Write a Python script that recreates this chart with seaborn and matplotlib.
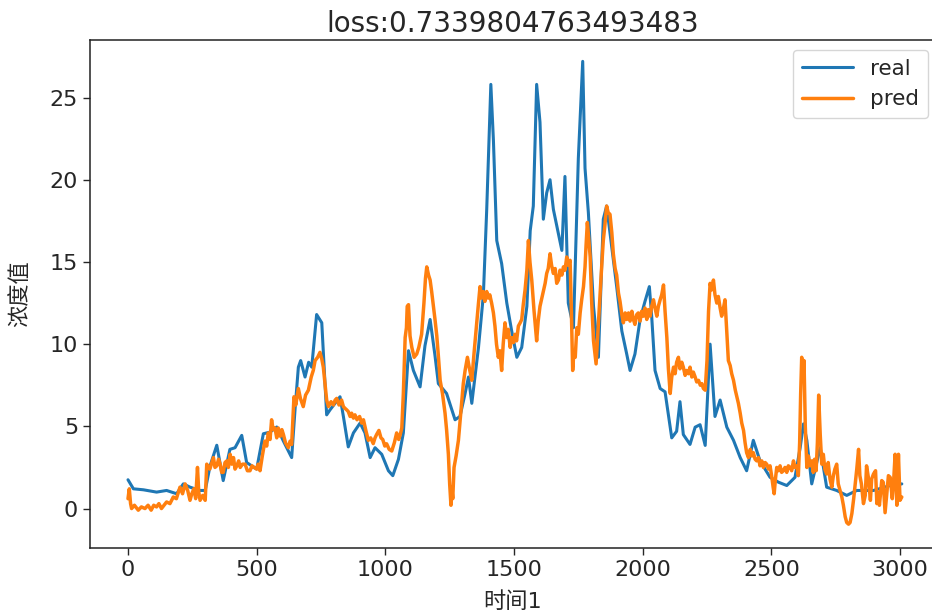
import matplotlib
matplotlib.use("Agg")
import matplotlib.pyplot as plt
import seaborn as sns

sns.set_style("ticks")
plt.rcParams['font.family'] = ['DejaVu Sans', 'Noto Sans CJK SC']
plt.rcParams['axes.unicode_minus'] = False

title_text = "loss:0.7339804763493483"
x_label = "时间1"
y_label = "浓度值"
series_names = ["real", "pred"]
x_ticks = [0, 500, 1000, 1500, 2000, 2500, 3000]
y_ticks = [0, 5, 10, 15, 20, 25]

real_x = [0, 21, 60, 111, 150, 189, 215, 241, 280, 300, 319, 345, 370, 396, 416, 442, 461, 500,
          526, 552, 578, 604, 636, 649, 662, 671, 688, 702, 714, 733, 753, 772, 785, 824, 837,
          856, 876, 902, 921, 941, 960, 986, 1012, 1029, 1051, 1070, 1090, 1109, 1135, 1154,
          1174, 1193, 1206, 1238, 1271, 1290, 1310, 1323, 1336, 1362, 1381, 1394, 1410, 1420,
          1433, 1452, 1472, 1491, 1511, 1530, 1550, 1563, 1575, 1588, 1601, 1614, 1627, 1640,
          1653, 1673, 1686, 1698, 1711, 1731, 1750, 1767, 1776, 1789, 1809, 1828, 1847, 1860,
          1880, 1899, 1919, 1938, 1951, 1970, 1990, 2009, 2026, 2035, 2048, 2068, 2087, 2113,
          2132, 2145, 2158, 2184, 2204, 2223, 2243, 2262, 2281, 2301, 2327, 2353, 2379, 2404,
          2430, 2456, 2495, 2528, 2560, 2592, 2612, 2625, 2638, 2657, 2690, 2715, 2754, 2793,
          2832, 2897, 2962, 3007]
real_y = [1.75, 1.2, 1.14, 1.0, 1.1, 0.9, 1.5, 1.3, 1.1, 1.1, 2.6, 3.85, 1.7, 3.6, 3.7, 4.45, 2.8, 2.4,
          4.55, 4.65, 4.96, 4.1, 3.1, 6.0, 8.6, 9.0, 8.0, 8.9, 8.6, 11.8, 11.3, 5.7, 6.0, 6.8, 5.6,
          3.75, 4.6, 5.2, 4.6, 3.1, 3.7, 3.3, 2.3, 2.0, 3.0, 4.6, 9.6, 8.4, 7.4, 9.9,
          11.5, 9.3, 7.6, 7.0, 5.4, 5.6, 7.0, 8.0, 6.4, 9.8, 13.0, 18.2, 25.8, 22.4,
          16.3, 14.9, 12.5, 10.8, 9.2, 9.8, 12.3, 16.9, 18.4, 25.8, 23.5, 17.6, 19.2, 20.0,
          18.2, 16.7, 15.7, 20.2, 12.5, 11.0, 21.3, 27.2, 20.7, 18.0, 12.3, 9.2, 17.6, 18.4,
          15.9, 13.5, 10.8, 9.4, 8.4, 9.4, 11.5, 12.6, 13.5, 11.7, 8.4, 7.3, 7.1, 4.3,
          4.7, 6.5, 4.5, 3.9, 4.95, 5.1, 3.84, 10.0, 5.6, 6.6, 4.95, 4.15, 3.1, 2.3,
          4.15, 2.9, 1.9, 1.6, 1.4, 1.9, 3.7, 5.15, 4.15, 1.5, 3.7, 1.3, 1.1, 0.8,
          1.1, 1.1, 1.4, 1.5]

pred_x = [0, 5, 10, 14, 25, 40, 52, 66, 78, 90,
          100, 111, 120, 130, 140, 150, 163, 176, 188, 202,
          212, 222, 232, 241, 248, 256, 263, 270, 275, 280,
          290, 300, 306, 318, 332, 338, 345, 352, 358, 364,
          370, 377, 384, 390, 397, 403, 410, 416, 423, 430,
          436, 445, 455, 464, 474, 482, 490, 500, 506, 513,
          522, 532, 539, 545, 552, 558, 564, 571, 578, 584,
          592, 598, 604, 612, 623, 630, 636, 645, 652, 662,
          670, 681, 690, 701, 712, 720, 727, 737, 746, 753,
          759, 766, 772, 779, 789, 798, 805, 811, 820, 830,
          837, 843, 850, 856, 863, 869, 876, 882, 890, 900,
          908, 915, 925, 934, 943, 953, 960, 966, 975, 983,
          990, 998, 1005, 1015, 1025, 1035, 1044, 1052, 1058, 1064,
          1070, 1077, 1082, 1085, 1090, 1096, 1103, 1112, 1122, 1130,
          1141, 1150, 1156, 1161, 1168, 1174, 1180, 1187, 1193, 1200,
          1206, 1213, 1222, 1232, 1238, 1245, 1250, 1255, 1258, 1262,
          1267, 1275, 1284, 1294, 1303, 1310, 1319, 1327, 1336, 1345,
          1355, 1362, 1368, 1374, 1381, 1387, 1394, 1400, 1406, 1413,
          1420, 1426, 1432, 1439, 1445, 1452, 1458, 1465, 1472, 1478,
          1485, 1491, 1498, 1504, 1510, 1517, 1524, 1530, 1536, 1543,
          1550, 1556, 1562, 1569, 1578, 1588, 1594, 1601, 1608, 1614,
          1621, 1627, 1633, 1640, 1646, 1653, 1660, 1666, 1673, 1679,
          1686, 1692, 1698, 1705, 1711, 1718, 1723, 1728, 1733, 1738,
          1744, 1750, 1757, 1763, 1770, 1776, 1780, 1785, 1790, 1796,
          1802, 1809, 1814, 1819, 1827, 1835, 1841, 1847, 1853, 1860,
          1866, 1873, 1880, 1886, 1893, 1899, 1906, 1912, 1919, 1925,
          1932, 1938, 1945, 1951, 1958, 1964, 1970, 1977, 1983, 1990,
          1996, 2003, 2009, 2016, 2022, 2029, 2035, 2042, 2048, 2055,
          2061, 2068, 2074, 2081, 2087, 2094, 2100, 2107, 2113, 2120,
          2126, 2132, 2139, 2145, 2152, 2158, 2165, 2171, 2178, 2184,
          2191, 2197, 2204, 2210, 2217, 2224, 2230, 2236, 2243, 2250,
          2256, 2262, 2268, 2275, 2281, 2288, 2294, 2301, 2307, 2314,
          2320, 2326, 2333, 2340, 2346, 2353, 2360, 2366, 2372, 2379,
          2385, 2392, 2398, 2404, 2411, 2418, 2424, 2430, 2437, 2443,
          2450, 2456, 2463, 2469, 2476, 2482, 2489, 2495, 2502, 2507,
          2511, 2516, 2521, 2528, 2534, 2540, 2547, 2553, 2560, 2566,
          2573, 2579, 2586, 2592, 2599, 2605, 2610, 2614, 2618, 2623,
          2627, 2632, 2638, 2644, 2650, 2657, 2663, 2668, 2674, 2679,
          2684, 2690, 2696, 2702, 2708, 2715, 2721, 2728, 2735, 2741,
          2747, 2754, 2760, 2767, 2774, 2780, 2787, 2793, 2800, 2806,
          2813, 2820, 2826, 2832, 2839, 2844, 2850, 2858, 2865, 2870,
          2877, 2885, 2890, 2897, 2905, 2910, 2915, 2920, 2929, 2935,
          2942, 2948, 2955, 2962, 2970, 2975, 2981, 2988, 2994, 3000,
          3007]
pred_y = [0.6, 1.2, 0.3, 0.0, 0.2, -0.1, 0.1, 0.0, 0.2, -0.1,
          0.2, 0.1, 0.3, 0.0, 0.2, 0.4, 0.3, 0.7, 0.6, 1.3,
          0.9, 1.5, 1.1, 0.5, 0.9, 1.2, 0.6, 2.5, 1.0, 0.5,
          0.8, 0.5, 2.7, 2.4, 3.1, 2.5, 2.6, 3.0, 2.7, 2.2,
          2.2, 2.8, 2.9, 2.5, 3.3, 2.7, 3.1, 2.4, 2.6, 2.9,
          2.5, 2.7, 2.7, 2.3, 2.3, 2.6, 2.5, 2.4, 2.7, 2.3,
          3.2, 4.1, 3.8, 4.6, 4.2, 5.4, 4.8, 4.9, 4.3, 4.9,
          4.4, 4.8, 4.5, 4.0, 3.7, 4.1, 3.9, 6.8, 6.3, 7.3,
          6.7, 6.2, 6.9, 7.2, 8.0, 8.4, 9.0, 9.2, 9.5, 9.1,
          8.6, 7.5, 6.6, 6.2, 6.5, 6.3, 6.6, 6.7, 6.3, 6.6,
          6.2, 6.1, 6.0, 5.9, 5.6, 5.8, 5.5, 5.7, 5.4, 5.6,
          5.2, 5.4, 4.7, 4.15, 4.3, 3.95, 4.3, 4.5, 4.75, 4.3,
          4.2, 3.8, 3.94, 3.6, 3.5, 4.0, 4.6, 4.2, 4.5, 4.9,
          7.0, 10.4, 11.0, 12.3, 12.4, 10.5, 9.8, 9.2, 9.4, 9.8,
          10.6, 12.5, 14.0, 14.7, 14.2, 13.9, 13.2, 12.3, 11.5, 10.5,
          9.3, 7.8, 7.0, 5.8, 4.8, 3.3, 1.5, 0.2, 1.3, 0.6,
          2.5, 3.2, 4.15, 6.0, 7.6, 8.4, 9.2, 8.5, 7.8, 9.5,
          11.3, 12.5, 13.5, 12.8, 13.2, 12.6, 13.2, 12.8, 13.0, 12.5,
          11.9, 11.1, 10.0, 9.2, 9.6, 8.4, 10.0, 11.3, 10.4, 10.9,
          9.8, 10.4, 10.1, 10.6, 10.2, 11.1, 11.3, 11.5, 12.4, 13.3,
          14.5, 16.3, 15.0, 13.9, 12.0, 10.2, 11.4, 12.3, 12.8, 13.2,
          13.7, 14.3, 14.6, 15.5, 14.8, 14.3, 14.6, 13.7, 13.9, 14.5,
          14.2, 14.7, 14.5, 15.3, 14.8, 15.1, 12.0, 8.4, 9.6, 9.2,
          11.0, 10.6, 11.9, 12.7, 13.5, 14.7, 16.0, 17.4, 16.5, 15.3,
          12.5, 10.2, 9.5, 8.8, 11.0, 13.3, 14.8, 16.3, 17.2, 18.4,
          18.0, 17.9, 16.8, 15.5, 14.6, 14.2, 13.1, 12.6, 11.8, 11.3,
          11.9, 11.5, 11.9, 11.4, 12.0, 11.5, 11.2, 11.8, 11.9, 11.4,
          12.0, 11.7, 12.2, 11.5, 12.1, 11.7, 12.3, 12.7, 12.2, 11.7,
          12.3, 12.7, 13.0, 13.6, 12.0, 10.4, 8.5, 7.0, 8.0, 8.6,
          8.2, 8.9, 9.2, 8.5, 8.9, 8.6, 8.1, 8.4, 8.2, 8.6,
          8.0, 8.3, 8.0, 7.7, 7.8, 7.5, 7.6, 7.3, 7.2, 9.0,
          12.0, 13.7, 13.3, 13.9, 13.0, 12.5, 12.9, 12.2, 11.7, 12.2,
          12.7, 11.0, 9.0, 8.7, 8.2, 7.8, 7.2, 6.8, 6.4, 5.8,
          5.2, 4.75, 4.0, 3.4, 3.1, 3.6, 3.2, 3.4, 3.0, 2.9,
          3.1, 2.6, 2.9, 2.5, 2.8, 2.7, 2.4, 2.6, 1.9, 1.3,
          0.9, 1.8, 2.5, 2.3, 2.6, 2.2, 2.3, 2.5, 2.2, 2.6,
          2.5, 2.3, 2.9, 2.5, 2.6, 2.0, 4.0, 7.0, 9.2, 8.0,
          9.0, 5.0, 2.5, 3.2, 2.6, 2.9, 2.2, 3.0, 2.3, 4.0,
          6.9, 4.5, 2.7, 3.3, 2.4, 2.1, 2.8, 1.8, 1.3, 2.0,
          2.4, 2.7, 1.5, 1.1, 0.7, 0.2, -0.5, -0.85, -0.95, -0.85,
          -0.3, 0.6, 1.5, 2.4, 3.6, 2.0, 1.5, 0.3, 0.8, 2.6,
          1.9, 0.5, 1.8, 2.1, 2.3, 0.3, 1.0, 0.2, 1.7, 1.6,
          -0.25, 0.8, 2.0, 1.9, 0.6, 1.6, 3.3, 0.2, 3.3, 0.5,
          0.7]

W, H = 932, 612
fig = plt.figure(figsize=(W / 100, H / 100), dpi=100)
left_px, right_px, top_px, bottom_px = 90, 960, 40, 548
ax = fig.add_axes([left_px / W, 1 - bottom_px / H, (right_px - left_px) / W, (bottom_px - top_px) / H])

sns.lineplot(x=real_x, y=real_y, ax=ax, color="#1f77b4", linewidth=2.2, label=series_names[0])
sns.lineplot(x=pred_x, y=pred_y, ax=ax, color="#ff7f0e", linewidth=2.5, label=series_names[1])

px_per_unit = (900 - 128) / 3000.0
ax.set_xlim((left_px - 128) / px_per_unit, (right_px - 128) / px_per_unit)
ax.set_ylim(-2.4, 28.5)
ax.set_xticks(x_ticks)
ax.set_yticks(y_ticks)
ax.tick_params(labelsize=16, length=5, width=1)
for s in ax.spines.values():
    s.set_linewidth(1.1)
    s.set_color("#222222")
ax.spines["right"].set_visible(False)

ax.set_title(title_text, fontsize=20, pad=6, x=(513 - left_px) / (right_px - left_px))
ax.set_xlabel(x_label, fontsize=16, labelpad=1)
ax.xaxis.set_label_coords((513 - left_px) / (right_px - left_px), -0.085)
ax.set_ylabel(y_label, fontsize=16)
ax.yaxis.set_label_coords((30 - left_px) / (right_px - left_px), 0.5)
ax.legend(loc="upper right", fontsize=15.5, handlelength=2.4,
          bbox_to_anchor=(928 / W, 1 - 50 / H), bbox_transform=fig.transFigure,
          borderaxespad=0)

fig.savefig("out.png", dpi=100)
